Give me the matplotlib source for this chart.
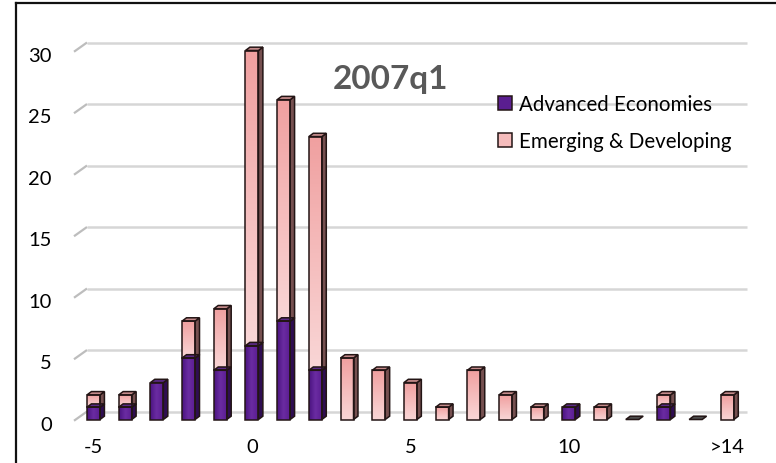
import numpy as np
import matplotlib
matplotlib.use("Agg")
import matplotlib.pyplot as plt
from matplotlib.patches import Rectangle, Polygon, Patch
from matplotlib.colors import LinearSegmentedColormap
from matplotlib.lines import Line2D
from matplotlib.transforms import ScaledTranslation

# Distribution of growth rates (number of countries per bin), 2007q1
categories = ["-5", "-4", "-3", "-2", "-1", "0", "1", "2", "3", "4", "5",
              "6", "7", "8", "9", "10", "11", "12", "13", "14", ">14"]
advanced = [1, 1, 3, 5, 4, 6, 8, 4, 0, 0, 0, 0, 0, 0, 0, 1, 0, 0, 1, 0, 0]
emerging = [1, 1, 0, 3, 5, 24, 18, 19, 5, 4, 3, 1, 4, 2, 1, 0, 1, 0, 1, 0, 2]
shown_labels = {0: "-5", 5: "0", 10: "5", 15: "10", 20: ">14"}
y_ticks = [0, 5, 10, 15, 20, 25, 30]

plt.rcParams['font.family'] = ['Lato', 'DejaVu Sans']

W, H = 776, 464
fig = plt.figure(figsize=(W / 100, H / 100), dpi=100)

# axes placement (pixel based)
ax_l, ax_r, ax_t, ax_b = 74, 747, 39.2, 424.2
ax = fig.add_axes([ax_l / W, 1 - ax_b / H, (ax_r - ax_l) / W, (ax_b - ax_t) / H])
XL, XR = -0.615, 20.62
ax.set_xlim(XL, XR)
ax.set_ylim(-0.3, 31)
for s in ax.spines.values():
    s.set_visible(False)

# pseudo-3D geometry
bar_w = 0.41
bdx, bdy = 0.14, 0.27      # bar depth offset
wdx, wdy = 0.41, 0.65      # floor/wall depth offset

# back wall gridlines and side-wall stubs
for v in y_ticks:
    ax.plot([XL + wdx, XR], [v + wdy, v + wdy], color="#d6d6d6", lw=1.8,
            zorder=1, solid_capstyle="butt", clip_on=False)
    ax.plot([XL, XL + wdx], [v - 0.1, v + wdy], color="#bdbdbd", lw=1.6,
            zorder=1, solid_capstyle="butt", clip_on=False)

pink_cmap = LinearSegmentedColormap.from_list("pk", ["#f9d6d6", "#f5bcbc", "#f0a0a0"])
purple_cmap = LinearSegmentedColormap.from_list("pu", ["#4a1380", "#6b2ca2", "#5a1d92"])
vgrad = np.linspace(0, 1, 64).reshape(-1, 1)
hgrad = np.linspace(0, 1, 64).reshape(1, -1)
edge = "#231515"


def draw_segment(x0, y0, h, cmap, gradient, side_col, top_col, z):
    x1 = x0 + bar_w
    face = Rectangle((x0, y0), bar_w, h, facecolor="none", edgecolor=edge,
                     lw=1.1, zorder=z + 0.2)
    ax.add_patch(face)
    im = ax.imshow(gradient, cmap=cmap, aspect="auto", origin="lower",
                   extent=(x0, x1, y0, y0 + h), zorder=z,
                   interpolation="bilinear")
    im.set_clip_path(face)
    side = Polygon([(x1, y0), (x1 + bdx, y0 + bdy), (x1 + bdx, y0 + h + bdy),
                    (x1, y0 + h)], closed=True, facecolor=side_col,
                   edgecolor=edge, lw=1.1, zorder=z)
    ax.add_patch(side)
    top = Polygon([(x0, y0 + h), (x1, y0 + h), (x1 + bdx, y0 + h + bdy),
                   (x0 + bdx, y0 + h + bdy)], closed=True, facecolor=top_col,
                  edgecolor=edge, lw=1.1, zorder=z + 0.1)
    ax.add_patch(top)


for i, (a, e) in enumerate(zip(advanced, emerging)):
    x0 = i - bar_w / 2
    z = 3 + i * 0.01
    if a + e == 0:
        flat = Polygon([(x0, 0), (x0 + bar_w, 0), (x0 + bar_w + bdx, bdy),
                        (x0 + bdx, bdy)], closed=True, facecolor="#4d4d4d",
                       edgecolor=edge, lw=1.1, zorder=z)
        ax.add_patch(flat)
        continue
    if a > 0:
        draw_segment(x0, 0, a, purple_cmap, hgrad, "#2f0d52", "#5a2a85", z)
    if e > 0:
        draw_segment(x0, a, e, pink_cmap, vgrad, "#765050", "#c48a8a", z + 0.001)

ax.set_yticks(y_ticks)
ax.set_yticklabels([str(v) for v in y_ticks])
ax.set_xticks(list(shown_labels.keys()))
ax.set_xticklabels(list(shown_labels.values()))
ax.tick_params(axis="y", length=0, pad=16, labelsize=14.5, colors="#000000")
ax.tick_params(axis="x", length=0, pad=11, labelsize=14.5, colors="#000000")
shift = ScaledTranslation(0, -3 / 100, fig.dpi_scale_trans)
for lab in ax.get_yticklabels():
    lab.set_transform(lab.get_transform() + shift)

# title inside the plot
fig.text(391 / W, 1 - 79 / H, "2007q1", ha="center", va="center",
         fontsize=24, fontweight="bold", color="#595959")

# legend
handles = [Patch(facecolor="#5a1e90", edgecolor=edge, lw=1.1),
           Patch(facecolor="#f6bcbc", edgecolor=edge, lw=1.1)]
fig.legend(handles, ["Advanced Economies", "Emerging & Developing"],
           loc="upper left", bbox_to_anchor=(498 / W, 1 - 95 / H),
           frameon=False, fontsize=14.8, handlelength=0.7, handleheight=0.7,
           handletextpad=0.3, labelspacing=0.85, borderpad=0.0,
           borderaxespad=0.0)

# outer chart frame (left and top edges)
fig.add_artist(Line2D([16 / W, 16 / W], [0, 1 - 4 / H], transform=fig.transFigure,
                      color="#111111", lw=1.6))
fig.add_artist(Line2D([16 / W, 1], [1 - 4 / H, 1 - 4 / H], transform=fig.transFigure,
                      color="#111111", lw=1.6))

fig.savefig("out.png", dpi=100)
